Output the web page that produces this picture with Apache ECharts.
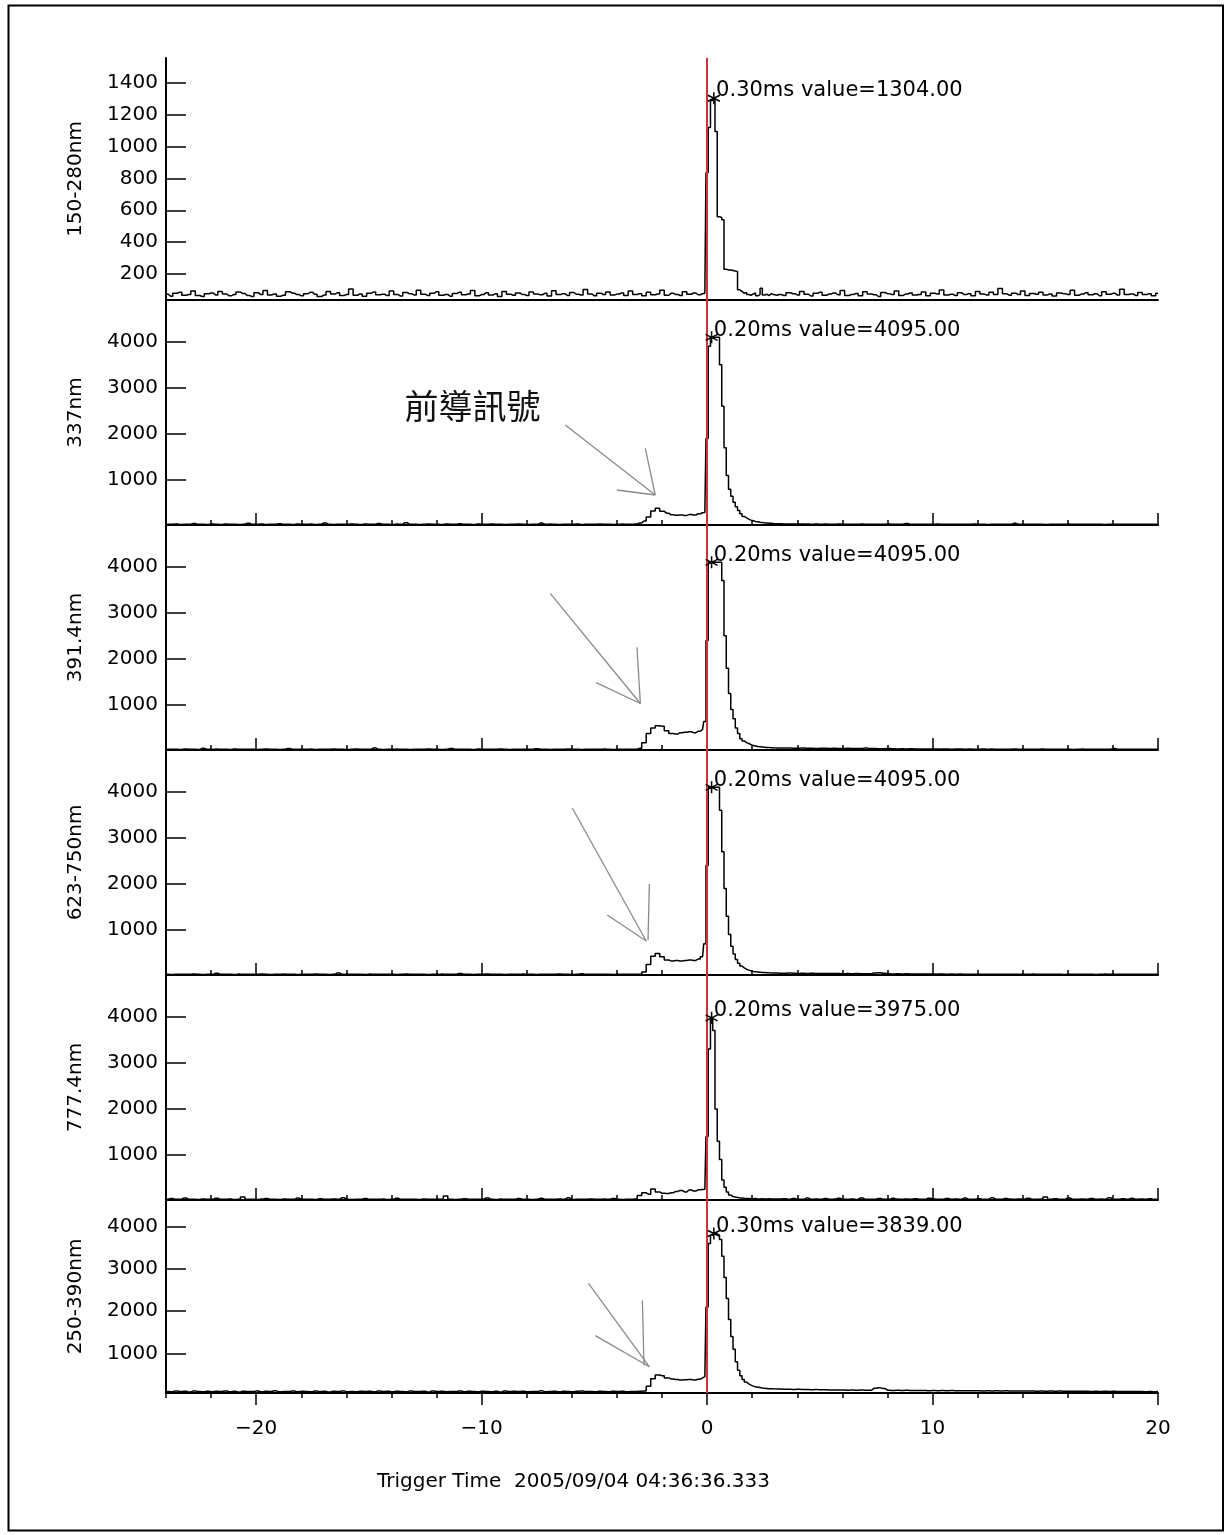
<!DOCTYPE html>
<html><head><meta charset="utf-8">
<script src="https://cdn.jsdelivr.net/npm/echarts@6/dist/echarts.min.js"></script>
<style>html,body{margin:0;padding:0;background:#fff}#c{width:1226px;height:1535px}</style>
</head><body><div id="c"></div>
<script>
// ---------- data ----------
const channelNames = ['150-280nm', '337nm', '391.4nm', '623-750nm', '777.4nm', '250-390nm'];
const peakTimes = [0.30, 0.20, 0.20, 0.20, 0.20, 0.30];
const peakValues = [1304, 4095, 4095, 4095, 3975, 3839];
const yMins = [36, 24, 24, 24, 24, 62];
const yMaxs = [1557, 4905, 4905, 4905, 4905, 4633];
const yTicksP1 = [200, 400, 600, 800, 1000, 1200, 1400];
const yTicksOther = [1000, 2000, 3000, 4000];
const xMajorTicks = [-20, -10, 0, 10, 20];
const xMin = -24, xMax = 20;
const xTitle = 'Trigger Time  2005/09/04 04:36:36.333';
const leaderText = '前導訊號';

// samples: pre = -24.0..-0.2 (0.2 ms), event = -0.1..3.0 (0.1 ms), post = 3.2..20.0 (0.2 ms)
const p1Pre = [72,60,78,85,66,70,92,64,58,75,80,68,90,74,62,70,86,77,65,58,
 82,70,95,68,74,60,66,88,79,70,63,76,84,72,58,67,90,73,81,64,
 70,105,66,74,59,78,86,69,72,64,92,70,61,83,75,68,98,72,65,79,
 88,66,71,60,77,84,69,74,96,63,70,82,67,75,58,90,72,66,80,71,
 64,87,73,69,78,61,94,70,76,65,83,72,68,102,74,62,79,70,86,67,
 73,80,65,92,71,76,63,85,69,74,98,66,78,71,64,88,72,80,69,76];
const p1Event = [78,835,1120,1290,1304,1095,560,555,540,230,225,225,222,218,215,100,90,78,84,70,66,74,80,62,70,110,68,72,64,76,70,66];
const p1Post = [70,64,82,75,68,90,72,61,78,85,66,73,80,69,95,64,71,77,62,88,
 74,69,58,83,76,70,92,65,73,80,67,71,86,63,78,74,99,68,72,65,
 81,70,76,62,89,73,67,84,71,108,75,66,79,70,93,64,77,72,85,68,
 74,61,80,76,70,97,66,73,82,69,75,63,88,72,78,67,104,71,74,65,
 83,70,76,62,79];

const p2Pre = [40,38,45,36,42,40,55,38,41,36,44,40,37,48,39,42,36,40,62,38,
 41,44,37,40,39,52,38,42,36,45,40,38,43,37,41,70,39,36,42,40,
 38,46,40,37,44,39,41,58,38,40,36,43,40,75,39,42,37,41,45,38,
 40,36,44,39,42,50,38,40,37,43,41,39,46,38,40,36,42,39,44,40,
 37,41,38,65,40,43,39,36,42,40,38,45,37,41,40,39,44,38,42,36,
 40,43,39,
 42,48,70,110,200,330,390,320,280,245,235,240,232,250,240,268,290];
const p2Event = [295,1900,3900,4095,4095,4095,4095,3500,2600,1700,1100,800,650,520,420,340,270,210,180,150,130,115,100,95,85,80,70,68,62,60,55,52];
const p2Post = [50,48,46,45,44,46,43,42,44,41,43,42,40,44,41,39,42,40,43,41,
 39,42,40,38,44,40,41,39,55,40,38,42,40,39,41,43,38,40,42,39,
 41,38,40,44,39,40,37,42,40,39,41,38,60,40,39,42,38,41,40,37,
 42,39,40,38,43,40,39,41,38,40,42,39,37,41,40,38,42,39,40,41,
 38,40,39,42,40];

const p3Pre = [38,42,40,36,44,39,41,37,60,40,38,43,39,41,36,45,40,38,42,39,
 37,41,44,38,40,36,42,55,39,41,38,40,43,37,40,42,38,45,39,41,
 36,40,44,38,42,39,70,40,37,41,39,43,38,40,36,42,40,39,44,38,
 41,37,40,58,39,42,38,40,36,43,41,39,40,38,45,40,37,42,39,41,
 38,40,52,39,42,37,41,40,38,44,39,40,36,42,41,38,40,43,39,37,
 41,40,38,
 40,42,60,180,380,500,550,540,440,380,370,400,410,420,400,430,470];
const p3Event = [640,2400,4095,4095,4095,4095,4095,4095,3700,2500,1800,1250,900,700,500,380,270,220,185,165,140,120,110,100,95,90,85,80,78,75,72,70];
const p3Post = [68,66,70,64,62,65,60,63,58,61,60,57,62,59,56,60,58,55,57,70,54,56,53,52,55,
 50,48,52,47,49,46,48,45,47,44,46,43,45,42,44,43,41,45,42,40,44,41,43,40,42,
 39,41,44,40,38,42,40,39,43,41,38,40,42,39,41,37,40,43,39,41,38,40,42,39,55,
 40,38,41,39,42,40,38,41,39,40];

const p4Pre = [40,37,42,39,41,38,44,40,36,42,39,62,40,38,41,37,43,40,39,42,
 38,45,40,37,41,39,43,38,40,36,42,40,39,44,38,41,37,40,68,39,
 42,38,41,40,36,43,39,40,38,42,41,37,40,45,39,38,42,40,37,41,
 39,43,40,38,41,57,39,42,37,40,38,44,40,39,41,36,42,40,38,43,
 39,41,37,40,42,38,40,44,39,41,37,40,50,38,42,39,40,41,38,36,
 42,40,39,
 40,38,42,90,250,430,490,420,350,330,340,330,340,350,340,370,420];
const p4Event = [700,2400,4095,4095,4095,4095,4095,3600,2700,1900,1300,900,650,480,360,280,220,180,150,130,115,100,95,90,85,80,78,75,72,70,68,66];
const p4Post = [64,62,66,60,58,61,57,60,56,58,55,57,54,56,53,55,52,54,51,53,50,68,74,62,52,
 48,50,47,49,46,48,45,47,44,46,43,45,42,44,41,43,40,42,39,41,40,42,39,41,38,
 40,42,39,41,38,40,43,39,41,38,40,42,39,37,41,40,38,42,39,41,37,40,43,39,40,
 38,41,39,42,40,38,41,39,40,38];

const p5Pre = [40,55,38,42,70,39,41,36,48,40,38,62,42,39,44,37,41,90,38,40,
 36,43,58,39,41,37,45,40,38,66,42,39,41,36,50,40,38,44,39,75,
 41,37,42,40,56,38,41,39,43,37,40,64,39,42,38,41,36,47,40,39,
 43,38,110,41,37,40,52,39,42,38,41,68,40,37,43,39,41,38,55,40,
 42,37,39,60,41,38,40,44,39,72,37,42,40,38,48,41,39,43,38,58,
 40,37,42,
 40,45,120,180,150,260,200,170,165,180,210,230,200,240,220,245,250];
const p5Event = [255,1400,3300,3975,3700,2000,1300,900,460,300,200,130,100,90,80,70,65,60,58,55,52,50,58,48,47,52,46,45,50,44,46,45];
const p5Post = [44,52,40,58,42,39,66,41,45,38,55,40,43,62,39,41,48,37,70,40,
 42,39,56,41,38,60,43,40,47,39,52,41,38,64,45,42,40,58,39,45,
 41,66,38,42,50,40,39,72,41,38,55,43,40,47,39,61,42,38,44,90,
 40,53,39,42,68,41,38,46,40,57,39,43,41,75,38,42,49,40,60,39,
 44,41,52,38,43];

const p6Pre = [100,92,108,96,104,88,112,98,94,106,90,102,97,110,93,101,86,105,99,95,
 108,91,103,97,114,89,100,96,107,93,102,98,90,109,95,101,87,104,99,112,
 94,100,92,106,97,103,89,110,96,101,93,105,98,91,107,100,95,102,88,109,
 97,104,92,100,96,111,90,103,98,94,106,99,93,102,87,108,95,101,97,104,
 91,100,96,113,94,99,102,89,105,97,93,101,108,95,100,92,103,98,90,106,
 97,101,94,
 100,98,105,110,220,400,490,470,420,395,380,370,375,380,370,390,420];
const p6Event = [450,2100,3600,3800,3839,3830,3800,3700,3300,2800,2300,1800,1400,1100,800,600,470,380,320,280,250,225,210,200,190,180,175,170,165,162,160,158];
const p6Post = [156,150,152,146,148,143,145,140,142,137,139,134,136,132,135,130,133,128,131,127,
 130,172,184,166,128,124,127,122,125,121,124,119,122,118,121,117,120,116,119,115,
 118,114,117,113,116,112,115,111,114,110,113,109,112,108,111,107,110,106,109,105,
 108,104,107,103,106,102,105,101,104,100,103,99,102,98,101,97,100,96,99,95,
 98,94,97,93,96];

// annotation arrows (data coordinates: [time, value])
const arrowsByPanel = {
  1: [[[-6.29, 2193], [-2.30, 675]], [[-2.74, 1688], [-2.30, 675]], [[-4.00, 783], [-2.30, 675]]],
  2: [[[-6.96, 3423], [-2.96, 1033]], [[-3.11, 2252], [-2.96, 1033]], [[-4.92, 1484], [-2.96, 1033]]],
  3: [[[-5.98, 3647], [-2.70, 762]], [[-2.56, 1998], [-2.62, 780]], [[-4.43, 1325], [-2.70, 762]]],
  5: [[[-5.26, 2659], [-2.56, 683]], [[-2.87, 2254], [-2.80, 720]], [[-4.96, 1421], [-2.56, 683]]]
};
const leaderTextPos = [-10.4, 2600];

// ---------- build ----------
const panels = [
  [p1Pre, p1Event, p1Post], [p2Pre, p2Event, p2Post], [p3Pre, p3Event, p3Post],
  [p4Pre, p4Event, p4Post], [p5Pre, p5Event, p5Post], [p6Pre, p6Event, p6Post]
];
function buildPoints(pre, ev, post) {
  const pts = [];
  pre.forEach((v, i) => pts.push([+(-24 + 0.2 * i).toFixed(2), v]));
  ev.forEach((v, i) => pts.push([+(-0.1 + 0.1 * i).toFixed(2), v]));
  post.forEach((v, i) => pts.push([+(3.2 + 0.2 * i).toFixed(2), v]));
  return pts;
}
const xMinorTicks = [];
for (let t = xMin; t <= xMax; t += 2) xMinorTicks.push(t);

const FONT = 'DejaVu Sans';
const gridLayout = [
  { top: 58, height: 242 }, { top: 300, height: 225 }, { top: 525, height: 225 },
  { top: 750, height: 225 }, { top: 975, height: 225 }, { top: 1200, height: 193 }
];
const grids = gridLayout.map(g => ({ left: 166, width: 992, top: g.top, height: g.height, outerBoundsMode: 'none' }));

const xAxes = [], yAxes = [], series = [];
const starPath = 'path://M0,-10L0,10M-8.66,-5L8.66,5M-8.66,5L8.66,-5';
panels.forEach((p, i) => {
  xAxes.push({
    gridIndex: i, type: 'value', min: xMin, max: xMax, position: 'bottom',
    axisLine: { show: true, onZero: false, lineStyle: { color: '#000', width: 2 } },
    axisTick: { show: i > 0, inside: i < 5, length: 5, customValues: xMinorTicks, lineStyle: { color: '#000', width: 1.5 } },
    axisLabel: { show: false }, splitLine: { show: false }
  });
  xAxes.push({
    gridIndex: i, type: 'value', min: xMin, max: xMax, position: 'bottom',
    axisLine: { show: false, onZero: false },
    axisTick: { show: i > 0, inside: i < 5, length: 12, customValues: xMajorTicks, lineStyle: { color: '#000', width: 1.5 } },
    axisLabel: {
      show: i === 5, customValues: xMajorTicks, margin: 26, fontSize: 20, fontFamily: FONT, color: '#000',
      formatter: v => String(v).replace('-', '\u2212')
    },
    splitLine: { show: false }
  });
  const ticks = i === 0 ? yTicksP1 : yTicksOther;
  yAxes.push({
    gridIndex: i, type: 'value', min: yMins[i], max: yMaxs[i],
    axisLine: { show: true, onZero: false, lineStyle: { color: '#000', width: 2 } },
    axisTick: { show: true, inside: true, length: 20, customValues: ticks, lineStyle: { color: '#000', width: 1.5 } },
    axisLabel: { customValues: ticks, margin: 8, fontSize: 20, fontFamily: FONT, color: '#000', formatter: v => String(v) },
    splitLine: { show: false },
    name: channelNames[i], nameLocation: 'middle', nameGap: 80,
    nameTextStyle: { fontSize: 20, fontFamily: FONT, color: '#000' }
  });

  const mlData = [{ xAxis: 0, lineStyle: { color: '#cc3333', width: 2, type: 'solid' } }];
  (arrowsByPanel[i] || []).forEach(seg => {
    mlData.push([{ coord: seg[0], lineStyle: { color: '#8a8a8a', width: 1.3, type: 'solid' } }, { coord: seg[1] }]);
  });
  const mpData = [{
    coord: [peakTimes[i], peakValues[i]], symbol: starPath, symbolSize: 12,
    itemStyle: { color: 'transparent', borderColor: '#000', borderWidth: 1.5 },
    label: {
      show: true, position: [9, -11], fontSize: 21, fontFamily: FONT, color: '#000',
      formatter: peakTimes[i].toFixed(2) + 'ms value=' + peakValues[i].toFixed(2)
    }
  }];
  if (i === 1) {
    mpData.push({
      coord: leaderTextPos, symbol: 'rect', symbolSize: 1, itemStyle: { color: 'transparent' },
      label: { show: true, position: 'inside', formatter: leaderText, fontSize: 34, fontFamily: 'Noto Sans CJK TC', color: '#111' }
    });
  }
  series.push({
    type: 'line', xAxisIndex: 2 * i, yAxisIndex: i,
    data: buildPoints(p[0], p[1], p[2]),
    step: 'middle', showSymbol: false, symbol: 'none', clip: true,
    lineStyle: { color: '#000', width: 1.5 },
    silent: true,
    markLine: { symbol: ['none', 'none'], silent: true, label: { show: false }, animation: false, data: mlData },
    markPoint: { silent: true, animation: false, data: mpData }
  });
});

const chart = echarts.init(document.getElementById('c'), null, { renderer: 'canvas' });
chart.setOption({
  animation: false,
  backgroundColor: '#fff',
  title: {
    text: xTitle, left: 372, top: 1467,
    textStyle: { fontSize: 20, fontWeight: 'normal', fontFamily: FONT, color: '#000' }
  },
  graphic: [{
    type: 'rect', silent: true,
    shape: { x: 8.5, y: 5.5, width: 1214.5, height: 1525 },
    style: { fill: 'none', stroke: '#000', lineWidth: 2 }
  }],
  grid: grids, xAxis: xAxes, yAxis: yAxes, series: series
});
</script></body></html>
